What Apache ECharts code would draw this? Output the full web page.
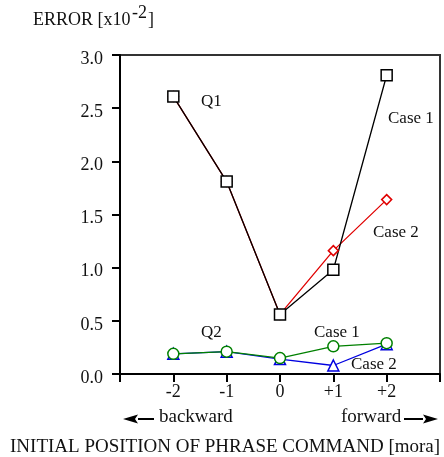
<!DOCTYPE html>
<html>
<head>
<meta charset="utf-8">
<script src="https://cdn.jsdelivr.net/npm/echarts@6/dist/echarts.min.js"></script>
<style>
html, body { margin: 0; padding: 0; background: #fff; }
#chart { width: 444px; height: 457px; }
</style>
</head>
<body>
<div id="chart"></div>
<script>
// initial position of phrase command [mora]
const positions = [-2, -1, 0, 1, 2];
// error values [x10^-2]
const q1Case1 = [2.61, 1.81, 0.56, 0.98, 2.81];
const q1Case2 = [2.61, 1.81, 0.56, 1.16, 1.64];
const q2Case1 = [0.19, 0.21, 0.15, 0.26, 0.29];
const q2Case2 = [0.19, 0.21, 0.14, 0.08, 0.28];
const yTicks = [0, 0.5, 1.0, 1.5, 2.0, 2.5, 3.0];

const FONT = "Liberation Serif";
const pair = arr => positions.map((p, i) => [p, arr[i]]);

const mkSeries = (name, data, color, symbol, size) => ({
    name,
    type: "line",
    data: pair(data),
    symbol,
    symbolSize: size,
    showSymbol: true,
    lineStyle: { color, width: 1.3 },
    itemStyle: { color: "#fff", borderColor: color, borderWidth: 1.5 },
    animation: false,
    z: 3,
});

const txt = (x, y, text, size) => ({
    type: "text",
    left: x,
    top: y,
    style: {
        text,
        font: `${size || 17}px "${FONT}"`,
        fill: "#111",
    },
});

const arrow = (x1, x2, y) => {
    const dir = x2 > x1 ? 1 : -1;
    const head = 15;
    return [
        {
            type: "line",
            shape: { x1, y1: y, x2: x2 - dir * head, y2: y },
            style: { stroke: "#000", lineWidth: 2 },
        },
        {
            type: "polygon",
            shape: { points: [[x2, y], [x2 - dir * head, y - 4.5], [x2 - dir * (head - 3), y], [x2 - dir * head, y + 4.5]] },
            style: { fill: "#000" },
        },
    ];
};

const chart = echarts.init(document.getElementById("chart"));
chart.setOption({
    animation: false,
    grid: {
        left: 120,
        right: 4,
        top: 55,
        bottom: 83,
        show: true,
        borderColor: "#333",
        borderWidth: 2,
        containLabel: false,
    },
    xAxis: {
        type: "value",
        min: -3,
        max: 3,
        interval: 1,
        axisLine: { show: true, onZero: false, lineStyle: { color: "#000", width: 2 } },
        axisTick: { show: true, inside: false, length: 8, lineStyle: { color: "#000", width: 2 } },
        splitLine: { show: false },
        axisLabel: {
            margin: 9,
            fontFamily: FONT,
            fontSize: 18,
            color: "#111",
            formatter: v => (Math.abs(v) > 2 ? "" : v > 0 ? "+" + v : String(v)),
        },
    },
    yAxis: {
        type: "value",
        min: yTicks[0],
        max: yTicks[yTicks.length - 1],
        interval: 0.5,
        axisLine: { show: true, onZero: false, lineStyle: { color: "#000", width: 2 } },
        axisTick: { show: true, inside: false, length: 8, lineStyle: { color: "#000", width: 2 } },
        splitLine: { show: false },
        axisLabel: {
            margin: 17,
            fontFamily: FONT,
            fontSize: 18,
            color: "#111",
            verticalAlign: "top",
            lineHeight: 8,
            formatter: v => v.toFixed(1),
        },
    },
    series: [
        mkSeries("Q1 Case 2", q1Case2, "#e00000", "diamond", 10),
        mkSeries("Q1 Case 1", q1Case1, "#000000", "rect", 11),
        mkSeries("Q2 Case 2", q2Case2, "#0000e0", "triangle", 11),
        mkSeries("Q2 Case 1", q2Case1, "#008000", "circle", 11),
    ],
    graphic: [
        txt(33, 11, "ERROR [x10", 18),
        txt(132, 4, "-2", 18),
        txt(148, 11, "]", 18),
        txt(201, 93, "Q1"),
        txt(388, 110, "Case 1"),
        txt(373, 224, "Case 2"),
        txt(201, 324, "Q2"),
        txt(314, 324, "Case 1"),
        txt(351, 356, "Case 2"),
        txt(159, 408, "backward", 19),
        txt(341, 408, "forward", 19),
        ...arrow(154, 123, 419),
        ...arrow(404, 438, 419),
        txt(10, 438, "INITIAL POSITION OF PHRASE COMMAND [mora]", 19),
    ],
});
</script>
</body>
</html>
